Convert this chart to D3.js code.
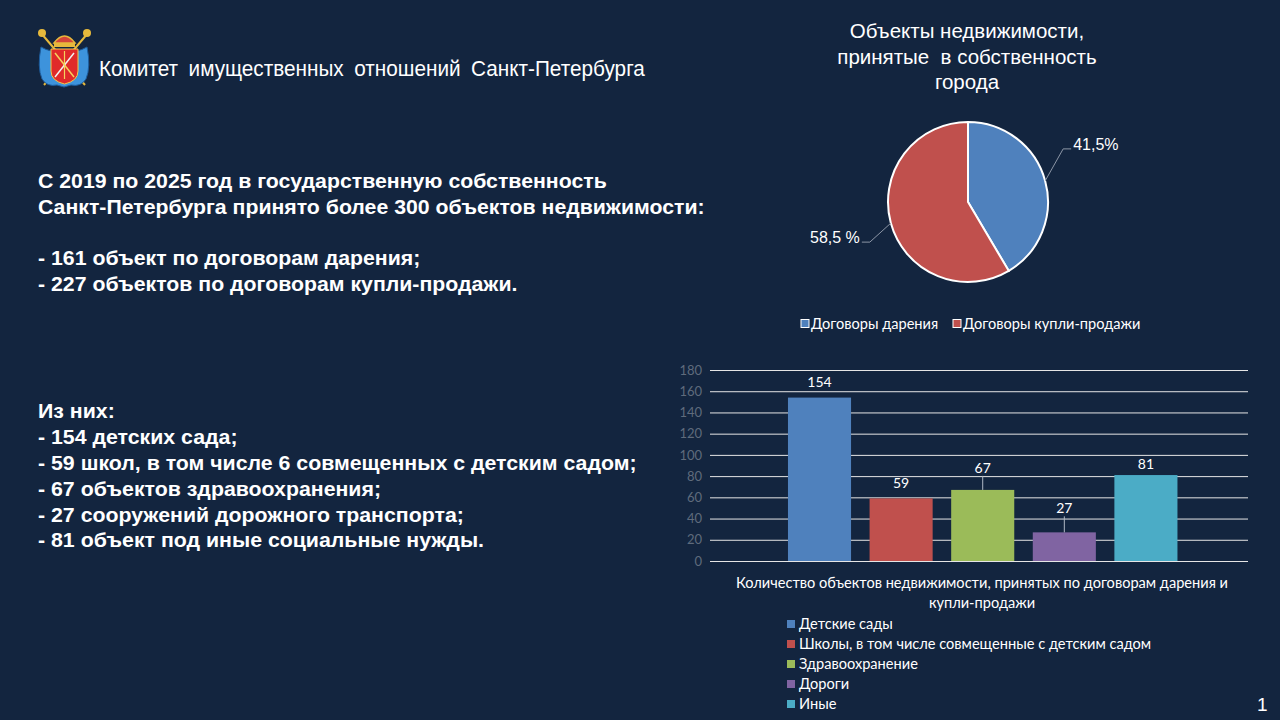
<!DOCTYPE html>
<html>
<head>
<meta charset="utf-8">
<script src="https://cdn.jsdelivr.net/npm/d3@7"></script>
<style>
  html, body { margin: 0; padding: 0; background: #13253f; }
  svg { display: block; }
</style>
</head>
<body>
<svg width="1280" height="720"></svg>
<script>
// --- data ---
var headerText = "Комитет имущественных отношений Санкт-Петербурга";
var introLines = [
  "С 2019 по 2025 год в государственную собственность",
  "Санкт-Петербурга принято более 300 объектов недвижимости:",
  "",
  "- 161 объект по договорам дарения;",
  "- 227 объектов по договорам купли-продажи."
];
var detailLines = [
  "Из них:",
  "- 154 детских сада;",
  "- 59 школ, в том числе 6 совмещенных с детским садом;",
  "- 67 объектов здравоохранения;",
  "- 27 сооружений дорожного транспорта;",
  "- 81 объект под иные социальные нужды."
];
var pieTitle = ["Объекты недвижимости,", "принятые  в собственность", "города"];
var pieLabels = ["Договоры дарения", "Договоры купли-продажи"];
var pieShares = [41.5, 58.5];
var pieTexts = ["41,5%", "58,5 %"];
var barCategories = ["Детские сады", "Школы, в том числе совмещенные с детским садом", "Здравоохранение", "Дороги", "Иные"];
var barValues = [154, 59, 67, 27, 81];
var yTicks = [0, 20, 40, 60, 80, 100, 120, 140, 160, 180];
var barAxisTitle = ["Количество объектов недвижимости, принятых по договорам дарения и", "купли-продажи"];
var pageNumber = "1";

var pieColors = ["#4f81bd", "#c0504d"];
var barColors = ["#4f81bd", "#c0504d", "#9bbb59", "#8064a2", "#4bacc6"];

var svg = d3.select("svg");
var SANS = "'Liberation Sans', Arial, sans-serif";
var NARROW = "'Liberation Sans Narrow', 'Liberation Sans', Arial, sans-serif";
var LABEL = "Lato, 'Open Sans', sans-serif";

svg.append("rect").attr("width", 1280).attr("height", 720).attr("fill", "#13253f");

// --- emblem (simplified) ---
var logo = svg.append("g").attr("transform", "translate(37,27)");
logo.append("line").attr("x1", 4).attr("y1", 6).attr("x2", 48).attr("y2", 58).attr("stroke", "#e6b93c").attr("stroke-width", 2);
logo.append("line").attr("x1", 51).attr("y1", 6).attr("x2", 7).attr("y2", 58).attr("stroke", "#e6b93c").attr("stroke-width", 2);
logo.append("circle").attr("cx", 5).attr("cy", 6).attr("r", 4).attr("fill", "#e6b93c");
logo.append("circle").attr("cx", 50).attr("cy", 6).attr("r", 4).attr("fill", "#e6b93c");
logo.append("path")
    .attr("d", "M4,20 Q0,40 5,52 Q10,60 20,58 L27,60 L34,58 Q44,60 49,52 Q54,40 50,20 Q40,26 27,24 Q14,26 4,20 Z")
    .attr("fill", "#3d93dc").attr("stroke", "#1d5c9c").attr("stroke-width", 1);
logo.append("path")
    .attr("d", "M14,22 L41,22 L41,44 Q41,54 27.5,57 Q14,54 14,44 Z")
    .attr("fill", "#e02a2a").attr("stroke", "#f2c94c").attr("stroke-width", 1);
logo.append("path").attr("d", "M17,16 Q27.5,2 38,16 Z").attr("fill", "#d4453a").attr("stroke", "#e6b93c").attr("stroke-width", 1.5);
logo.append("rect").attr("x", 17).attr("y", 16).attr("width", 21).attr("height", 4).attr("fill", "#e6b93c");
logo.append("line").attr("x1", 18).attr("y1", 26).attr("x2", 37).attr("y2", 50).attr("stroke", "#f4d35e").attr("stroke-width", 1.5);
logo.append("line").attr("x1", 37).attr("y1", 26).attr("x2", 18).attr("y2", 50).attr("stroke", "#f2f2f2").attr("stroke-width", 1.5);
logo.append("line").attr("x1", 27.5).attr("y1", 24).attr("x2", 27.5).attr("y2", 52).attr("stroke", "#f4d35e").attr("stroke-width", 1.2);

// header: slightly condensed letters, wide word gaps
var headerG = svg.append("g");
var header = headerG.append("text")
    .attr("x", 0).attr("y", 0)
    .style("font", "22px " + SANS).style("word-spacing", "5px")
    .attr("fill", "#ffffff")
    .text(headerText);
var headerK = 546 / header.node().getComputedTextLength();
headerG.attr("transform", "translate(99,76) scale(" + headerK + ",1)");

// --- left text blocks, condensed bold ---
function textBlock(lines, x, y0, dy, targetWidth, longest) {
  var g = svg.append("g");
  var t = g.selectAll("text").data(lines).enter().append("text")
      .attr("x", 0)
      .attr("y", function(d, i) { return i * dy; })
      .style("font", "bold 20px " + NARROW)
      .attr("fill", "#ffffff")
      .text(function(d) { return d; });
  var natural = t.nodes()[longest].getComputedTextLength();
  var k = targetWidth / natural;
  g.attr("transform", "translate(" + x + "," + y0 + ") scale(" + k + ",1)");
}
textBlock(introLines, 38, 188, 25.7, 667, 1);
textBlock(detailLines, 38, 418, 25.9, 599, 2);

// --- pie ---
var pcx = 968, pcy = 202, pr = 80;

svg.append("g").selectAll("text").data(pieTitle).enter().append("text")
    .attr("x", 967).attr("y", function(d, i) { return 38 + i * 25.5; })
    .attr("text-anchor", "middle")
    .style("font", "20.5px " + SANS).style("white-space", "pre")
    .attr("fill", "#ffffff")
    .text(function(d) { return d; });

var pie = d3.pie().sort(null).value(function(d) { return d; });
var arc = d3.arc().innerRadius(0).outerRadius(pr);
var arcs = pie(pieShares);

var pg = svg.append("g").attr("transform", "translate(" + pcx + "," + pcy + ")");
pg.selectAll("path").data(arcs).enter().append("path")
    .attr("d", arc)
    .attr("fill", function(d, i) { return pieColors[i]; })
    .attr("stroke", "#ffffff").attr("stroke-width", 2);

// leader lines: edge point -> elbow -> short horizontal run
var leaderElbow = [[18, -32], [-21, 19]];
arcs.forEach(function(d, i) {
  var a = (d.startAngle + d.endAngle) / 2;
  var ex = Math.sin(a) * pr, ey = -Math.cos(a) * pr;
  var bx = ex + leaderElbow[i][0], by = ey + leaderElbow[i][1];
  var dir = ex > 0 ? 1 : -1;
  var hx = bx + dir * 8;
  pg.append("polyline")
      .attr("points", [[ex, ey], [bx, by], [hx, by]].join(" "))
      .attr("fill", "none").attr("stroke", "#8c96a6").attr("stroke-width", 1);
  pg.append("text")
      .attr("x", hx + dir * 2).attr("y", by - 5)
      .attr("dy", "0.35em")
      .attr("text-anchor", dir > 0 ? "start" : "end")
      .style("font", "16px " + SANS)
      .attr("fill", "#ffffff")
      .text(pieTexts[i]);
});

// pie legend
var pl = svg.append("g").attr("transform", "translate(801,324)");
var plx = [0, 152];
pieLabels.forEach(function(lbl, i) {
  pl.append("rect").attr("x", plx[i]).attr("y", -4.5).attr("width", 8).attr("height", 8)
      .attr("fill", pieColors[i]).attr("stroke", "#ffffff").attr("stroke-width", 1);
  pl.append("text").attr("x", plx[i] + 10).attr("y", 0).attr("dy", "0.35em")
      .style("font", "14.6px " + LABEL).attr("fill", "#ffffff").text(lbl);
});

// --- bar chart ---
var bx0 = 710, bx1 = 1248, by0 = 561, by1 = 370;
var y = d3.scaleLinear().domain([0, 180]).range([by0, by1]);
var x = d3.scaleBand().domain(barCategories).range([bx0, bx1])
    .paddingInner(0.227).paddingOuter(0.91).align(0.525);

var yAxis = svg.append("g")
    .attr("transform", "translate(" + bx0 + ",0)")
    .call(d3.axisLeft(y).tickValues(yTicks).tickSize(-(bx1 - bx0)).tickPadding(8));
yAxis.select(".domain").remove();
yAxis.selectAll(".tick line").attr("stroke", "#e6e6e6").attr("stroke-width", 1);
yAxis.selectAll(".tick text").attr("fill", "#5f6b7c").style("font", "13px " + LABEL);

svg.append("g").selectAll("rect").data(barValues).enter().append("rect")
    .attr("x", function(d, i) { return x(barCategories[i]); })
    .attr("y", function(d) { return y(d); })
    .attr("width", x.bandwidth())
    .attr("height", function(d) { return by0 - y(d); })
    .attr("fill", function(d, i) { return barColors[i]; });

// data labels; two were lifted with a leader line
var labelLift = [15, 15, 22, 24, 11];
var labelLeader = [false, false, true, true, false];
barValues.forEach(function(v, i) {
  var cx = x(barCategories[i]) + x.bandwidth() / 2;
  var ly = y(v) - labelLift[i];
  if (labelLeader[i]) {
    svg.append("line").attr("x1", cx).attr("x2", cx)
        .attr("y1", ly + 8).attr("y2", y(v))
        .attr("stroke", "#b0b8c4").attr("stroke-width", 1);
  }
  svg.append("text").attr("x", cx).attr("y", ly).attr("dy", "0.35em")
      .attr("text-anchor", "middle")
      .style("font", "14px " + LABEL).attr("fill", "#ffffff")
      .text(v);
});

svg.append("g").selectAll("text").data(barAxisTitle).enter().append("text")
    .attr("x", 982).attr("y", function(d, i) { return 583 + i * 20; })
    .attr("dy", "0.35em").attr("text-anchor", "middle")
    .style("font", "14.6px " + LABEL).attr("fill", "#ffffff")
    .text(function(d) { return d; });

var bl = svg.append("g").attr("transform", "translate(787,624)");
barCategories.forEach(function(c, i) {
  bl.append("rect").attr("x", 0).attr("y", i * 20 - 4).attr("width", 8).attr("height", 8).attr("fill", barColors[i]);
  bl.append("text").attr("x", 12).attr("y", i * 20).attr("dy", "0.35em")
      .style("font", "14.6px " + LABEL).attr("fill", "#ffffff").text(c);
});

svg.append("text").attr("x", 1257).attr("y", 711)
    .style("font", "19px " + SANS).attr("fill", "#ffffff")
    .text(pageNumber);
</script>
</body>
</html>
